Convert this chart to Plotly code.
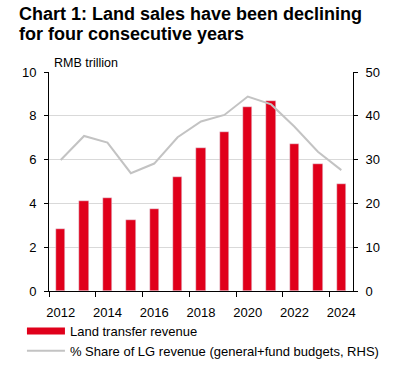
import plotly.graph_objects as go

years = list(range(2012, 2025))
land_revenue = [2.83, 4.11, 4.23, 3.24, 3.74, 5.19, 6.51, 7.24, 8.42, 8.69, 6.70, 5.80, 4.89]
share_pct = [29.9, 35.4, 33.9, 26.9, 29.1, 35.1, 38.7, 40.2, 44.4, 42.6, 37.5, 31.8, 27.6]
left_ticks = [0, 2, 4, 6, 8, 10]
right_ticks = [0, 10, 20, 30, 40, 50]
year_ticks = [2012, 2014, 2016, 2018, 2020, 2022, 2024]
title_lines = ["Chart 1: Land sales have been declining", "for four consecutive years"]

RED = "#E0001B"
GRAY = "#C3C3C3"
FONT = "Liberation Sans, Arial, sans-serif"

# plot area in pixels: x 49..353, y 72..291
def py(p):
    return (291 - p) / 219

fig = go.Figure()
fig.add_trace(go.Bar(x=years, y=land_revenue, marker_color=RED, width=0.4,
                     showlegend=False, name="Land transfer revenue"))
# legend proxy for bar (wide rectangle)
fig.add_trace(go.Scatter(x=[None], y=[None], mode="lines",
                         line=dict(color=RED, width=7), name="Land transfer revenue"))
fig.add_trace(go.Scatter(x=years, y=share_pct, mode="lines", yaxis="y2",
                         line=dict(color=GRAY, width=2),
                         name="% Share of LG revenue (general+fund budgets, RHS)"))

annotations = [
    dict(text=f"<b>{t}</b>", xref="paper", yref="paper", x=(17 - 49) / 304, y=py(top),
         xanchor="left", yanchor="top", align="left", showarrow=False,
         font=dict(size=18, family=FONT, color="#000"))
    for t, top in zip(title_lines, [2, 22])
]
annotations.append(dict(text="RMB trillion", xref="paper", yref="paper", x=0.01, y=1.0,
                        xanchor="left", yanchor="bottom", showarrow=False,
                        font=dict(size=12.5, family=FONT)))

fig.update_layout(
    width=393, height=365,
    margin=dict(l=49, r=40, t=72, b=74, autoexpand=False),
    paper_bgcolor="white", plot_bgcolor="white",
    font=dict(family=FONT, size=13, color="#000"),
    xaxis=dict(range=[2011.5, 2024.5], tickvals=year_ticks, ticks="",
               showline=True, linecolor="#000", linewidth=1, showgrid=False,
               tickfont=dict(size=13), ticklabelstandoff=9,
               minor=dict(tick0=2011.5, dtick=2, ticks="outside", ticklen=5,
                          tickcolor="#000", showgrid=False)),
    yaxis=dict(range=[0, 10], tickvals=left_ticks, ticks="outside", ticklen=4,
               tickcolor="#000", showline=True, linecolor="#000", linewidth=1,
               gridcolor="#D9D9D9", gridwidth=1, zeroline=False, tickfont=dict(size=13),
               ticklabelstandoff=5),
    yaxis2=dict(range=[0, 50], tickvals=right_ticks, overlaying="y", side="right",
                ticks="outside", ticklen=4, tickcolor="#000", showline=True,
                linecolor="#000", linewidth=1, showgrid=False, zeroline=False,
                tickfont=dict(size=13), ticklabelstandoff=5),
    bargap=0,
    legend=dict(x=-0.089, xanchor="left", yref="container", y=1 - 316/365, yanchor="top",
                font=dict(size=13), itemwidth=38, tracegroupgap=0,
                bgcolor="rgba(0,0,0,0)"),
    annotations=annotations,
)

fig.write_html("out.html", config={"displayModeBar": False},
               post_script="document.body.style.margin='0';document.body.style.padding='0';")
